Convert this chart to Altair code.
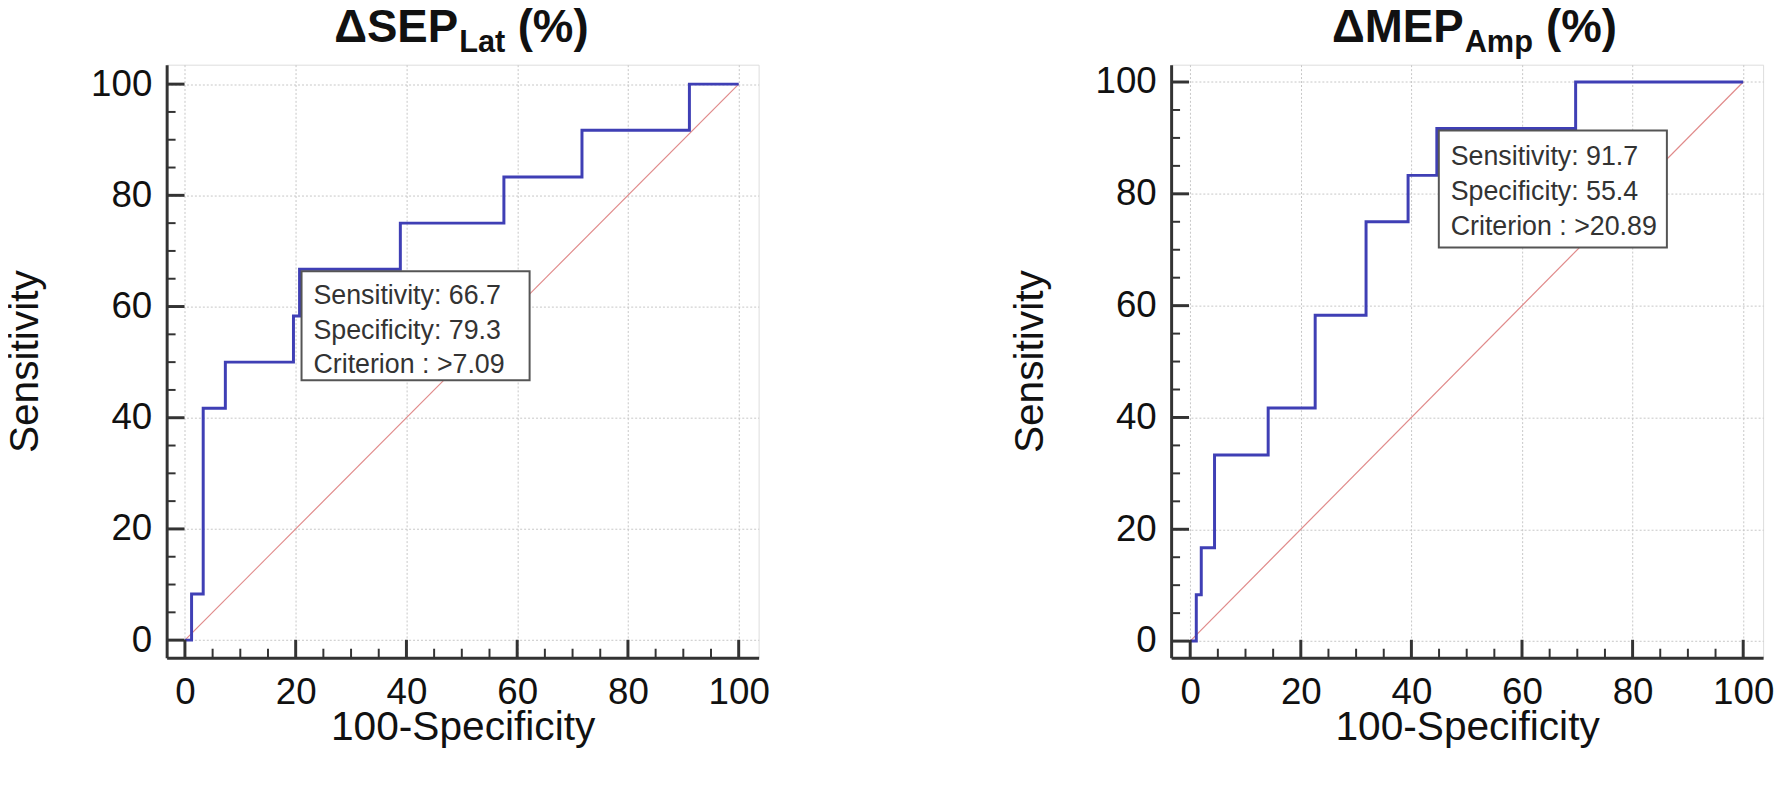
import altair as alt
import pandas as pd

# ---------------- data ----------------
# Left panel: ΔSEP_Lat (%) ROC curve corner points (step-after)
SEP_FPR = [0, 1.2, 3.3, 7.3, 19.6, 20.7, 38.9, 57.6, 71.7, 91.1, 100]
SEP_TPR = [0, 8.3, 41.7, 50.0, 58.3, 66.7, 75.0, 83.3, 91.7, 100, 100]
SEP_POINT_X = [20.7]
SEP_POINT_Y = [66.7]
SEP_TEXT = ["Sensitivity: 66.7", "Specificity: 79.3", "Criterion : >7.09"]

# Right panel: ΔMEP_Amp (%) ROC curve corner points (step-after)
MEP_FPR = [0, 1.1, 2.0, 4.4, 14.1, 22.6, 31.8, 39.4, 44.6, 69.7, 100]
MEP_TPR = [0, 8.3, 16.7, 33.3, 41.7, 58.3, 75.0, 83.3, 91.7, 100, 100]
MEP_POINT_X = [44.6]
MEP_POINT_Y = [91.7]
MEP_TEXT = ["Sensitivity: 91.7", "Specificity: 55.4", "Criterion : >20.89"]

DIAG = [0, 100]
MAJOR_TICKS = [0, 20, 40, 60, 80, 100]
MINOR_TICKS = [5, 10, 15, 25, 30, 35, 45, 50, 55, 65, 70, 75, 85, 90, 95]

FONT = "Liberation Sans"
W, H = 597, 598


def panel(fpr, tpr, px, py, lines, main, sub, xdom, ydom, anchor, paren_x,
          box_h, line_h, text_dy):
    xs = alt.Scale(domain=xdom, nice=False, zero=False)
    ys = alt.Scale(domain=ydom, nice=False, zero=False)

    xaxis = alt.Axis(values=MAJOR_TICKS, grid=True, gridDash=[2, 2], gridColor="#c6c6c6",
                     gridWidth=1, ticks=False, domain=True, domainColor="#333333", domainWidth=3,
                     labelFont=FONT, labelFontSize=37, labelColor="#111111", labelPadding=17,
                     labelFlush=False, title="100-Specificity", titleFont=FONT, titleFontSize=41,
                     titleFontWeight="normal", titleColor="#111111", titleBaseline="alphabetic",
                     titleY=83)
    yaxis = alt.Axis(values=MAJOR_TICKS, grid=True, gridDash=[2, 2], gridColor="#c6c6c6",
                     gridWidth=1, ticks=False, domain=True, domainColor="#333333", domainWidth=3,
                     labelFont=FONT, labelFontSize=37, labelColor="#111111", labelPadding=15,
                     labelFlush=False, title="Sensitivity", titleFont=FONT, titleFontSize=41,
                     titleFontWeight="normal", titleColor="#111111", titleBaseline="alphabetic",
                     titleX=-130)

    def X(f):
        return alt.X(f, scale=xs, axis=xaxis)

    def Y(f):
        return alt.Y(f, scale=ys, axis=yaxis)

    diag_df = pd.DataFrame({"x": DIAG, "y": DIAG})
    diag = alt.Chart(diag_df).mark_line(color="#e08a8a", strokeWidth=1.2).encode(
        x=X("x:Q"), y=Y("y:Q"))

    curve_df = pd.DataFrame({"x": fpr, "y": tpr})
    curve = alt.Chart(curve_df).mark_line(color="#3f3fb5", strokeWidth=3,
                                          interpolate="step-after").encode(
        x=X("x:Q"), y=Y("y:Q"))

    pt_df = pd.DataFrame({"x": px, "y": py, "label": ["\n".join(lines)]})
    box = alt.Chart(pt_df).mark_rect(fill="white", stroke="#555555", strokeWidth=2,
                                     xOffset=2, x2Offset=232, yOffset=2,
                                     y2Offset=2 + box_h).encode(
        x=X("x:Q"), x2="x:Q", y=Y("y:Q"), y2="y:Q")
    txt = alt.Chart(pt_df).mark_text(font=FONT, fontSize=27, color="#333333", align="left",
                                     baseline="top", lineBreak="\n", lineHeight=line_h,
                                     dx=14, dy=text_dy).encode(
        x=X("x:Q"), y=Y("y:Q"), text="label:N")

    tick_y_major = alt.Chart(pd.DataFrame({"y": MAJOR_TICKS})).mark_rule(
        color="#333333", strokeWidth=3).encode(
        y=Y("y:Q"), x=alt.value(0), x2=alt.value(18))
    tick_y_minor = alt.Chart(pd.DataFrame({"y": MINOR_TICKS})).mark_rule(
        color="#333333", strokeWidth=2).encode(
        y=Y("y:Q"), x=alt.value(0), x2=alt.value(9))
    tick_x_major = alt.Chart(pd.DataFrame({"x": MAJOR_TICKS})).mark_rule(
        color="#333333", strokeWidth=3).encode(
        x=X("x:Q"), y=alt.value(H), y2=alt.value(H - 18))
    tick_x_minor = alt.Chart(pd.DataFrame({"x": MINOR_TICKS})).mark_rule(
        color="#333333", strokeWidth=2).encode(
        x=X("x:Q"), y=alt.value(H), y2=alt.value(H - 9))

    t_main = alt.Chart(pd.DataFrame({"t": [main]})).mark_text(
        font=FONT, fontSize=46, fontWeight="bold", color="#111111", align="right",
        baseline="alphabetic").encode(text="t:N", x=alt.value(anchor), y=alt.value(-23))
    t_sub = alt.Chart(pd.DataFrame({"t": [sub]})).mark_text(
        font=FONT, fontSize=31, fontWeight="bold", color="#111111", align="left",
        baseline="alphabetic").encode(text="t:N", x=alt.value(anchor + 1), y=alt.value(-13))
    t_par = alt.Chart(pd.DataFrame({"t": ["(%)"]})).mark_text(
        font=FONT, fontSize=46, fontWeight="bold", color="#111111", align="left",
        baseline="alphabetic").encode(text="t:N", x=alt.value(paren_x), y=alt.value(-23))

    return alt.layer(diag, curve, box, txt, tick_y_major, tick_y_minor,
                     tick_x_major, tick_x_minor, t_main, t_sub, t_par).properties(
        width=W, height=H)


left = panel(SEP_FPR, SEP_TPR, SEP_POINT_X, SEP_POINT_Y, SEP_TEXT, "ΔSEP", "Lat",
             [-3.3, 103.6], [-3.15, 103.5], 294, 354, 110, 35, 14)
right = panel(MEP_FPR, MEP_TPR, MEP_POINT_X, MEP_POINT_Y, MEP_TEXT, "ΔMEP", "Amp",
              [-3.45, 103.6], [-2.96, 103.1], 295, 378, 118, 35.5, 16)

chart = alt.hconcat(left, right, spacing=240).properties(
    padding={"left": -4, "top": -7, "right": 0, "bottom": 0}
).configure_view(strokeWidth=0, stroke="transparent").configure(background="white")

chart.save("out.html", embed_options={"renderer": "svg", "actions": False})
